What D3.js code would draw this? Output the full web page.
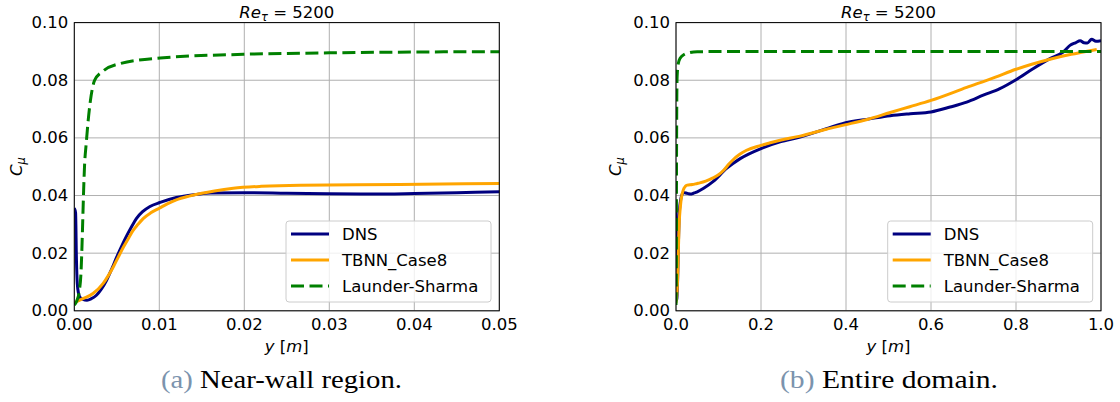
<!DOCTYPE html>
<html>
<head>
<meta charset="utf-8">
<script src="https://cdn.jsdelivr.net/npm/d3@7"></script>
<style>
  body { margin: 0; background: #fff; }
  svg { font-family: "DejaVu Sans", sans-serif; }
</style>
</head>
<body>
<svg id="fig" width="1120" height="402"></svg>
<script>
// C_mu profiles across the channel, Re_tau = 5200
const dnsY = [0, 0.00015, 0.00025, 0.00035, 0.0005, 0.0007, 0.001, 0.0015, 0.002, 0.0026,
  0.0032, 0.0038, 0.0044, 0.005, 0.0056, 0.0062, 0.0068, 0.0073, 0.008, 0.0089,
  0.0101, 0.012, 0.0144, 0.016, 0.02, 0.025, 0.03, 0.035, 0.04, 0.045,
  0.05, 0.065, 0.087, 0.119, 0.151, 0.2, 0.245, 0.292, 0.354, 0.397,
  0.456, 0.504, 0.551, 0.6, 0.645, 0.684, 0.723, 0.762, 0.8, 0.84,
  0.88, 0.911, 0.927, 0.94, 0.951, 0.96, 0.968, 0.978, 0.988, 1.0];
const dnsCmu = [0.0356, 0.0340, 0.0180, 0.0095, 0.0060, 0.0046, 0.0040, 0.0037, 0.0042, 0.0054,
  0.0076, 0.0106, 0.0145, 0.0187, 0.0226, 0.0262, 0.0295, 0.0320, 0.0343, 0.0362,
  0.0376, 0.0393, 0.0404, 0.0409, 0.0410, 0.0408, 0.0406, 0.0405, 0.0407, 0.0410,
  0.0413, 0.0425, 0.0448, 0.0494, 0.0528, 0.0563, 0.0586, 0.0603, 0.0632, 0.0652,
  0.0666, 0.0677, 0.0684, 0.0690, 0.0707, 0.0724, 0.0748, 0.0771, 0.0802, 0.0840,
  0.0875, 0.0898, 0.0921, 0.0930, 0.0937, 0.0930, 0.0929, 0.0942, 0.0935, 0.0937];

const tbnnY = [0, 0.001, 0.0022, 0.0034, 0.004, 0.0046, 0.0052, 0.0058, 0.0064, 0.0069,
  0.0075, 0.0081, 0.009, 0.01, 0.011, 0.012, 0.0135, 0.015, 0.0165, 0.0187,
  0.022, 0.0266, 0.0383, 0.05, 0.056, 0.07, 0.087, 0.1, 0.111, 0.125,
  0.135, 0.15, 0.166, 0.2, 0.245, 0.292, 0.354, 0.397, 0.45, 0.504,
  0.55, 0.6, 0.684, 0.75, 0.8, 0.88, 0.93, 0.958, 0.99];
const tbnnCmu = [0.0028, 0.0042, 0.0060, 0.0095, 0.0122, 0.0153, 0.0188, 0.0222, 0.0253, 0.0278,
  0.0300, 0.0320, 0.0340, 0.0356, 0.0372, 0.0385, 0.0398, 0.0408, 0.0416, 0.0425,
  0.0432, 0.0436, 0.0438, 0.0442, 0.0444, 0.0450, 0.0461, 0.0472, 0.0486, 0.0510,
  0.0525, 0.0543, 0.0557, 0.0574, 0.0592, 0.0606, 0.0630, 0.0645, 0.0664, 0.0688,
  0.0708, 0.0730, 0.0775, 0.0810, 0.0838, 0.0873, 0.0890, 0.0898, 0.0907];

const lsY = [0, 0.0003, 0.0006, 0.0008, 0.0009, 0.001, 0.0011, 0.0012, 0.0014, 0.0016,
  0.0019, 0.0024, 0.0034, 0.0054, 0.0101, 0.0199, 0.03, 0.05, 0.2, 1.0];
const lsCmu = [0.0020, 0.0035, 0.0070, 0.0140, 0.0220, 0.0320, 0.0420, 0.0500, 0.0580, 0.0650,
  0.0730, 0.0800, 0.0832, 0.0858, 0.0877, 0.0890, 0.0895, 0.0899, 0.0900, 0.0900];

const yTicks = [0, 0.02, 0.04, 0.06, 0.08, 0.10];
const xTicksNear = [0, 0.01, 0.02, 0.03, 0.04, 0.05];
const xTicksFull = [0, 0.2, 0.4, 0.6, 0.8, 1.0];

const seriesNames = ["DNS", "TBNN_Case8", "Launder-Sharma"];
const seriesColors = ["#000080", "#ffa500", "#008000"];
const captions = [["(a)", " Near-wall region."], ["(b)", " Entire domain."]];
const titleParts = ["Re", "\u03c4", " = 5200"];

const series = [
  { name: seriesNames[0], color: seriesColors[0], dash: null, pts: dnsY.map((v, i) => [v, dnsCmu[i]]) },
  { name: seriesNames[1], color: seriesColors[1], dash: null, pts: tbnnY.map((v, i) => [v, tbnnCmu[i]]) },
  { name: seriesNames[2], color: seriesColors[2], dash: "13,5.5", pts: lsY.map((v, i) => [v, lsCmu[i]]) }
];

const panels = [
  { left: 74.3, right: 499.3, domain: [0, 0.05], ticks: xTicksNear, fmt: d3.format(".2f"),
    ylabX: 21.7, caption: captions[0], capX: 161, capW: 241 },
  { left: 676, right: 1101, domain: [0, 1], ticks: xTicksFull, fmt: d3.format(".1f"),
    ylabX: 620.7, caption: captions[1], capX: 780, capW: 218 }
];

const plotTop = 22.6, plotBottom = 310.8;
const svg = d3.select("#fig");
svg.append("rect").attr("width", 1120).attr("height", 402).attr("fill", "#fff");

const yScale = d3.scaleLinear().domain([0, 0.1]).range([plotBottom, plotTop]);

panels.forEach((p, pi) => {
  const x = d3.scaleLinear().domain(p.domain).range([p.left, p.right]);
  const g = svg.append("g");

  const clipId = "clip" + pi;
  svg.append("clipPath").attr("id", clipId)
    .append("rect").attr("x", p.left).attr("y", plotTop)
    .attr("width", p.right - p.left).attr("height", plotBottom - plotTop);

  // grid
  g.append("g").selectAll("line").data(p.ticks).join("line")
    .attr("x1", d => x(d)).attr("x2", d => x(d))
    .attr("y1", plotTop).attr("y2", plotBottom)
    .attr("stroke", "#b0b0b0").attr("stroke-width", 1);
  g.append("g").selectAll("line").data(yTicks).join("line")
    .attr("x1", p.left).attr("x2", p.right)
    .attr("y1", d => yScale(d)).attr("y2", d => yScale(d))
    .attr("stroke", "#b0b0b0").attr("stroke-width", 1);

  // curves
  const line = d3.line().x(d => x(d[0])).y(d => yScale(d[1])).curve(d3.curveMonotoneX);
  const lg = g.append("g").attr("clip-path", `url(#${clipId})`);
  series.forEach(s => {
    lg.append("path").attr("d", line(s.pts))
      .attr("fill", "none").attr("stroke", s.color).attr("stroke-width", 3)
      .attr("stroke-dasharray", s.dash).attr("stroke-linejoin", "round");
  });

  // frame
  g.append("rect").attr("x", p.left).attr("y", plotTop)
    .attr("width", p.right - p.left).attr("height", plotBottom - plotTop)
    .attr("fill", "none").attr("stroke", "#000").attr("stroke-width", 1);

  // tick labels
  g.append("g").selectAll("text").data(yTicks).join("text")
    .attr("x", p.left - 6).attr("y", d => yScale(d))
    .attr("text-anchor", "end").attr("dominant-baseline", "central")
    .attr("font-size", 16.5).attr("fill", "#000")
    .text(d => d3.format(".2f")(d));
  g.append("g").selectAll("text").data(p.ticks).join("text")
    .attr("x", d => x(d)).attr("y", 329.5)
    .attr("text-anchor", "middle")
    .attr("font-size", 16.5).attr("fill", "#000")
    .text(d => p.fmt(d));

  const cx = (p.left + p.right) / 2;

  // title
  const t = g.append("text").attr("x", cx).attr("y", 18)
    .attr("text-anchor", "middle").attr("font-size", 16.5);
  t.append("tspan").attr("font-style", "italic").text(titleParts[0]);
  t.append("tspan").attr("font-style", "italic").attr("font-size", 11.5).attr("dy", 3).text(titleParts[1]);
  t.append("tspan").attr("dy", -3).text(titleParts[2]);

  // x label
  const xl = g.append("text").attr("x", cx).attr("y", 352)
    .attr("text-anchor", "middle").attr("font-size", 16.5);
  xl.append("tspan").attr("font-style", "italic").text("y");
  xl.append("tspan").text(" [");
  xl.append("tspan").attr("font-style", "italic").text("m");
  xl.append("tspan").text("]");

  // y label
  const yl = g.append("text")
    .attr("transform", `translate(${p.ylabX},${(plotTop + plotBottom) / 2}) rotate(-90)`)
    .attr("text-anchor", "middle").attr("font-size", 16.5);
  yl.append("tspan").attr("font-style", "italic").text("C");
  yl.append("tspan").attr("font-style", "italic").attr("font-size", 11.5).attr("dy", 3.5).text("\u03bc");

  // legend
  const lw = 205, lh = 81;
  const lx = p.right - 8.3 - lw, ly = 221;
  const leg = g.append("g");
  leg.append("rect").attr("x", lx).attr("y", ly).attr("width", lw).attr("height", lh)
    .attr("rx", 3).attr("fill", "#fff").attr("fill-opacity", 0.8)
    .attr("stroke", "#cccccc").attr("stroke-width", 1);
  series.forEach((s, i) => {
    const ry = ly + 13 + i * 26;
    leg.append("line").attr("x1", lx + 5).attr("x2", lx + 43)
      .attr("y1", ry).attr("y2", ry)
      .attr("stroke", s.color).attr("stroke-width", 3)
      .attr("stroke-dasharray", s.dash);
    leg.append("text").attr("x", lx + 56).attr("y", ry)
      .attr("dominant-baseline", "central").attr("font-size", 16.5)
      .text(s.name);
  });

  // caption
  const cap = svg.append("text").attr("x", p.capX).attr("y", 388)
    .attr("font-size", 26)
    .style("font-family", "'Liberation Serif', 'DejaVu Serif', serif")
    .attr("textLength", p.capW).attr("lengthAdjust", "spacingAndGlyphs");
  cap.append("tspan").attr("fill", "#7b93ad").text(p.caption[0]);
  cap.append("tspan").attr("fill", "#000").text(p.caption[1]);
});
</script>
</body>
</html>
